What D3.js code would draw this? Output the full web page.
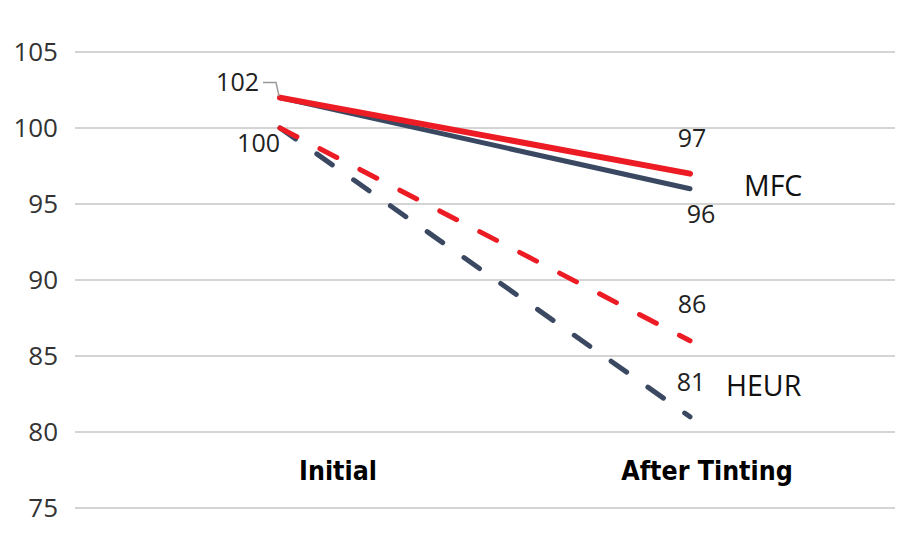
<!DOCTYPE html>
<html><head><meta charset="utf-8">
<script src="https://cdn.jsdelivr.net/npm/d3@7"></script>
<style>body{margin:0;background:#fff}svg{display:block}</style>
</head><body>
<svg id="c" width="900" height="550"></svg>
<script>
const categories = ["Initial", "After Tinting"];
const heurGrey = [100, 81];
const mfcGrey = [102, 96];
const heurRed = [100, 86];
const mfcRed = [102, 97];
const yTicks = [75, 80, 85, 90, 95, 100, 105];
const seriesLabels = ["MFC", "HEUR"];

const svg = d3.select("#c");
const y = d3.scaleLinear().domain([75, 105]).range([508, 52]);
const x = d3.scaleBand().domain(categories).range([75, 895]);
const cx = c => x(c) + x.bandwidth() / 2;

const font = "'Open Sans', 'Noto Sans', sans-serif";

// grid
svg.append("g").selectAll("line").data(yTicks).join("line")
  .attr("x1", 75).attr("x2", 895)
  .attr("y1", d => y(d)).attr("y2", d => y(d))
  .attr("stroke", "#d4d4d4").attr("stroke-width", 2);

// y labels
svg.append("g").selectAll("text").data(yTicks).join("text")
  .attr("x", 58).attr("y", d => y(d)).attr("dy", "0.35em")
  .attr("text-anchor", "end").attr("font-family", font).attr("font-size", 26)
  .attr("fill", "#333").text(d => d);

// category labels
const catOffset = [58, 17];
svg.append("g").selectAll("text").data(categories).join("text")
  .attr("x", (d, i) => cx(d) + catOffset[i]).attr("y", 480)
  .attr("text-anchor", "middle")
  .attr("font-family", "'DejaVu Sans Condensed', 'Liberation Sans', sans-serif")
  .attr("font-weight", "bold").attr("font-size", 26.5).attr("fill", "#000")
  .text(d => d);

const line = d3.line().x((d, i) => cx(categories[i])).y(d => y(d));
const series = [
  {v: heurGrey, color: "#3a4862", dash: "19,26", w: 5},
  {v: heurRed, color: "#ed1c24", dash: "19,26", w: 5},
  {v: mfcGrey, color: "#3a4862", dash: null, w: 5},
  {v: mfcRed, color: "#ed1c24", dash: null, w: 6}
];
svg.append("g").selectAll("path").data(series).join("path")
  .attr("d", d => line(d.v)).attr("fill", "none")
  .attr("stroke", d => d.color).attr("stroke-width", d => d.w)
  .attr("stroke-linecap", "round")
  .attr("stroke-dasharray", d => d.dash);

// leader line for 102
const x0 = cx(categories[0]);
svg.append("path")
  .attr("d", `M${x0 - 17},${y(103)} H${x0 - 4} L${x0 - 1},${y(102.1)}`)
  .attr("fill", "none").attr("stroke", "#999").attr("stroke-width", 1.5);

// data labels
const x1 = cx(categories[1]);
const labels = [
  {t: mfcRed[0], x: x0 - 21, y: y(103), a: "end"},
  {t: heurRed[0], x: x0 - 0, y: y(99.0), a: "end"},
  {t: mfcRed[1], x: x1 + 2, y: y(99.3), a: "middle"},
  {t: mfcGrey[1], x: x1 + 11, y: y(94.3), a: "middle"},
  {t: heurRed[1], x: x1 + 2, y: y(88.4), a: "middle"},
  {t: heurGrey[1], x: x1 + 1, y: y(83.3), a: "middle"}
];
svg.append("g").selectAll("text").data(labels).join("text")
  .attr("x", d => d.x).attr("y", d => d.y).attr("dy", "0.35em")
  .attr("text-anchor", d => d.a).attr("font-family", font).attr("font-size", 25)
  .attr("fill", "#222").text(d => d.t);

// series names
const names = [{t: seriesLabels[0], x: x1 + 54, v: 96.2}, {t: seriesLabels[1], x: x1 + 36, v: 83}];
svg.append("g").selectAll("text").data(names).join("text")
  .attr("x", d => d.x).attr("y", d => y(d.v)).attr("dy", "0.35em")
  .attr("font-family", font).attr("font-size", 28.5).attr("fill", "#111")
  .text(d => d.t);
</script>
</body></html>
